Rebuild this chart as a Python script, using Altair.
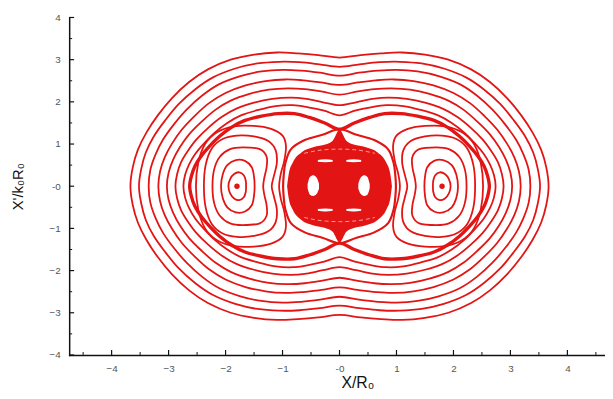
import altair as alt
import pandas as pd

RED = "#e31414"

# Outer closed curves: quadrant points (x >= 0, y >= 0), from the top (x=0) to the x-intercept
outer_x = {
    "O1": [0, 0.37, 0.73, 1.1, 1.5, 1.91, 2.31, 2.64, 2.94, 3.19, 3.39, 3.54, 3.63, 3.67],
    "O2": [0, 0.35, 0.70, 1.06, 1.44, 1.83, 2.22, 2.53, 2.82, 3.06, 3.26, 3.40, 3.48, 3.52],
    "O3": [0, 0.34, 0.67, 1.0, 1.37, 1.74, 2.11, 2.41, 2.68, 2.91, 3.10, 3.23, 3.32, 3.35],
    "O4": [0, 0.32, 0.64, 0.95, 1.30, 1.65, 2.0, 2.29, 2.54, 2.77, 2.94, 3.07, 3.15, 3.18],
    "O5": [0, 0.30, 0.61, 0.91, 1.24, 1.58, 1.91, 2.18, 2.42, 2.64, 2.80, 2.92, 3.0, 3.03],
    "O6": [0, 0.29, 0.58, 0.86, 1.18, 1.50, 1.81, 2.07, 2.30, 2.51, 2.66, 2.78, 2.85, 2.88],
    "O7": [0, 0.27, 0.55, 0.82, 1.12, 1.42, 1.73, 1.97, 2.19, 2.38, 2.53, 2.64, 2.71, 2.74],
}
outer_y = {
    "O1": [3.05, 3.11, 3.15, 3.17, 3.12, 3.0, 2.77, 2.47, 2.09, 1.68, 1.27, 0.86, 0.44, 0],
    "O2": [2.83, 2.89, 2.94, 2.95, 2.91, 2.79, 2.58, 2.30, 1.95, 1.56, 1.18, 0.80, 0.41, 0],
    "O3": [2.62, 2.69, 2.74, 2.76, 2.72, 2.61, 2.42, 2.15, 1.82, 1.46, 1.10, 0.75, 0.39, 0],
    "O4": [2.40, 2.46, 2.51, 2.53, 2.49, 2.39, 2.21, 1.97, 1.67, 1.34, 1.01, 0.68, 0.35, 0],
    "O5": [2.17, 2.24, 2.30, 2.32, 2.29, 2.19, 2.03, 1.81, 1.53, 1.23, 0.93, 0.63, 0.32, 0],
    "O6": [1.92, 1.99, 2.07, 2.10, 2.07, 1.98, 1.84, 1.64, 1.39, 1.11, 0.84, 0.57, 0.29, 0],
    "O7": [1.68, 1.79, 1.87, 1.92, 1.90, 1.81, 1.68, 1.50, 1.27, 1.01, 0.77, 0.52, 0.27, 0],
}
# Separatrix through the X-points (0, +-1.35): outer branch and inner lens
sep_x = [0, 0.26, 0.53, 0.79, 1.08, 1.37, 1.66, 1.89, 2.10, 2.28, 2.43, 2.54, 2.60, 2.63]
sep_y = [1.35, 1.50, 1.63, 1.72, 1.72, 1.66, 1.56, 1.40, 1.19, 0.95, 0.71, 0.47, 0.24, 0]
lens_x = [0, 0.3, 0.6, 0.85, 0.95, 0.98, 0.99]
lens_y = [1.35, 1.22, 1.1, 0.88, 0.55, 0.25, 0]

# Island (kidney) curves around the right O-point, upper half from outer to inner intercept
kid_x = {
    "K1": [1.95, 1.92, 1.85, 1.76, 1.68, 1.645, 1.64],
    "K2": [2.08, 2.05, 1.97, 1.82, 1.66, 1.54, 1.5, 1.49],
    "K3": [2.23, 2.2, 2.1, 1.92, 1.7, 1.4, 1.28, 1.28, 1.32, 1.34],
    "K4": [2.38, 2.35, 2.24, 2.05, 1.8, 1.5, 1.25, 1.12, 1.1, 1.15, 1.19],
    "K5": [2.52, 2.48, 2.36, 2.15, 1.85, 1.5, 1.2, 1.0, 0.94, 0.97, 1.03, 1.06],
}
kid_y = {
    "K1": [0, 0.17, 0.29, 0.33, 0.26, 0.13, 0],
    "K2": [0, 0.28, 0.5, 0.62, 0.6, 0.45, 0.22, 0],
    "K3": [0, 0.4, 0.7, 0.88, 0.92, 0.88, 0.7, 0.45, 0.2, 0],
    "K4": [0, 0.5, 0.9, 1.12, 1.2, 1.18, 1.07, 0.85, 0.55, 0.25, 0],
    "K5": [0, 0.55, 1.0, 1.28, 1.42, 1.43, 1.36, 1.2, 0.95, 0.6, 0.3, 0],
}
island_centers_x = [-1.8, 1.8]
island_centers_y = [0, 0]

# Chaotic central region (filled), top profile and bottom profile
blob_x = [-0.92, -0.89, -0.82, -0.67, -0.45, -0.25, -0.12, 0, 0.12, 0.25, 0.45, 0.67, 0.82, 0.89, 0.92]
blob_top = [0, 0.3, 0.56, 0.8, 0.93, 0.99, 1.08, 1.33, 1.08, 0.99, 0.93, 0.8, 0.56, 0.3, 0]
blob_bot = [0, -0.3, -0.56, -0.8, -0.93, -0.99, -1.08, -1.33, -1.08, -0.99, -0.93, -0.8, -0.56, -0.3, 0]

# White holes inside the central region
hole_id = ["h1"] * 5 + ["h2"] * 5 + ["s1"] * 3 + ["s2"] * 3 + ["s3"] * 3 + ["s4"] * 3
hole_x = [-0.56, -0.52, -0.46, -0.4, -0.36,
          0.33, 0.37, 0.43, 0.49, 0.53,
          -0.38, -0.25, -0.12,
          0.12, 0.25, 0.38,
          -0.38, -0.25, -0.12,
          0.12, 0.25, 0.38]
hole_top = [0.05, 0.22, 0.26, 0.2, 0.06,
            0.06, 0.2, 0.26, 0.22, 0.05,
            0.62, 0.64, 0.62,
            0.62, 0.64, 0.62,
            -0.54, -0.53, -0.54,
            -0.54, -0.53, -0.54]
hole_bot = [-0.05, -0.2, -0.23, -0.18, -0.06,
            -0.06, -0.18, -0.23, -0.2, -0.05,
            0.58, 0.57, 0.58,
            0.58, 0.57, 0.58,
            -0.58, -0.6, -0.58,
            -0.58, -0.6, -0.58]
ring_x = [-0.62, -0.3, 0, 0.3, 0.62]
ring_top = [0.78, 0.86, 0.88, 0.86, 0.78]
ring_bot = [-0.74, -0.82, -0.84, -0.82, -0.74]

major_ticks = [-4, -3, -2, -1, 0, 1, 2, 3, 4]
minor_ticks_x = [-4.5, -3.5, -2.5, -1.5, -0.5, 0.5, 1.5, 2.5, 3.5, 4.5]
minor_ticks_y = [-3.5, -2.5, -1.5, -0.5, 0.5, 1.5, 2.5, 3.5]


def quad_loop(xs, ys):
    p = list(zip(xs, ys))
    q1 = p
    q4 = [(x, -y) for x, y in reversed(p[:-1])]
    q3 = [(-x, -y) for x, y in p[1:]]
    q2 = [(-x, y) for x, y in reversed(p[1:-1])]
    return q1 + q4 + q3 + q2


def half_loop(xs, ys):
    p = list(zip(xs, ys))
    return p + [(x, -y) for x, y in reversed(p[1:-1])]


rows_thin, rows_sep, rows_lens = [], [], []
for k in outer_x:
    for i, (x, y) in enumerate(quad_loop(outer_x[k], outer_y[k])):
        rows_thin.append({"curve": k, "i": i, "x": x, "y": y})
for k in kid_x:
    loop = half_loop(kid_x[k], kid_y[k])
    for i, (x, y) in enumerate(loop):
        rows_thin.append({"curve": k + "R", "i": i, "x": x, "y": y})
        rows_thin.append({"curve": k + "L", "i": i, "x": -x, "y": y})
for i, (x, y) in enumerate(quad_loop(sep_x, sep_y)):
    rows_sep.append({"curve": "sep", "i": i, "x": x, "y": y})
for i, (x, y) in enumerate(quad_loop(lens_x, lens_y)):
    rows_lens.append({"curve": "lens", "i": i, "x": x, "y": y})

df_thin = pd.DataFrame(rows_thin)
df_sep = pd.DataFrame(rows_sep)
df_lens = pd.DataFrame(rows_lens)
df_blob = pd.DataFrame({"x": blob_x, "y": blob_top, "y2": blob_bot})
df_holes = pd.DataFrame({"id": hole_id, "x": hole_x, "y": hole_top, "y2": hole_bot})
df_ring = pd.DataFrame({"x": ring_x * 2, "y": ring_top + ring_bot,
                        "id": ["t"] * 5 + ["b"] * 5})
df_dots = pd.DataFrame({"x": island_centers_x, "y": island_centers_y})
df_xmaj = pd.DataFrame({"x": major_ticks})
df_xmin = pd.DataFrame({"x": minor_ticks_x})
df_ymaj = pd.DataFrame({"y": major_ticks})
df_ymin = pd.DataFrame({"y": minor_ticks_y})

W, H = 543, 342
xs = alt.Scale(domain=[-4.745, 4.66], nice=False, zero=False)
ys = alt.Scale(domain=[-4, 4], nice=False, zero=False)
lab = "datum.value == 0 ? '-0' : datum.label"
xaxis = alt.Axis(values=major_ticks, labelExpr=lab, ticks=False, grid=False,
                 domainColor="#111", domainWidth=1.5, labelColor="#555",
                 labelFont="Liberation Sans", labelFontSize=10, labelPadding=9,
                 title="X/R₀", titleFont="Liberation Sans", titleFontSize=16,
                 titleFontWeight="normal", titleColor="#111", titleX=292, titleY=20)
yaxis = alt.Axis(values=major_ticks, labelExpr=lab, ticks=False, grid=False,
                 domainColor="#111", domainWidth=1.5, labelColor="#555",
                 labelFont="Liberation Sans", labelFontSize=10, labelPadding=9,
                 title="X'/k₀R₀", titleFont="Liberation Sans", titleFontSize=15,
                 titleFontWeight="normal", titleColor="#111", titleX=-44)

X = alt.X("x:Q", scale=xs, axis=xaxis)
Y = alt.Y("y:Q", scale=ys, axis=yaxis)

thin = alt.Chart(df_thin).mark_line(interpolate="cardinal-closed", color=RED,
                                    strokeWidth=1.8).encode(
    x=X, y=Y, detail="curve:N", order="i:Q")
sep = alt.Chart(df_sep).mark_line(interpolate="cardinal-closed", color=RED,
                                  strokeWidth=3.4).encode(
    x=X, y=Y, detail="curve:N", order="i:Q")
lens = alt.Chart(df_lens).mark_line(interpolate="cardinal-closed", color=RED,
                                    strokeWidth=2.2).encode(
    x=X, y=Y, detail="curve:N", order="i:Q")
blob = alt.Chart(df_blob).mark_area(interpolate="monotone", color=RED).encode(
    x=X, y=Y, y2="y2:Q")
holes = alt.Chart(df_holes).mark_area(interpolate="monotone", color="white").encode(
    x=X, y=Y, y2="y2:Q", detail="id:N")
ring = alt.Chart(df_ring).mark_line(interpolate="monotone", color="white",
                                    strokeWidth=1, strokeDash=[4, 3], opacity=0.6).encode(
    x=X, y=Y, detail="id:N")
dots = alt.Chart(df_dots).mark_point(filled=True, color=RED, size=30, opacity=1).encode(
    x=X, y=Y)

xmaj = alt.Chart(df_xmaj).mark_rule(color="#111", strokeWidth=1.2).encode(
    x=X, y=alt.value(H), y2=alt.value(H - 5))
xmin = alt.Chart(df_xmin).mark_rule(color="#111", strokeWidth=1).encode(
    x=X, y=alt.value(H), y2=alt.value(H - 3))
ymaj = alt.Chart(df_ymaj).mark_rule(color="#111", strokeWidth=1.2).encode(
    y=Y, x=alt.value(0), x2=alt.value(5))
ymin = alt.Chart(df_ymin).mark_rule(color="#111", strokeWidth=1).encode(
    y=Y, x=alt.value(0), x2=alt.value(3))

chart = alt.layer(thin, sep, lens, blob, holes, ring, dots, xmaj, xmin, ymaj, ymin).properties(
    width=W, height=H,
    autosize=alt.AutoSizeParams(type="none"),
    padding={"left": 62, "top": 7, "right": 0, "bottom": 40},
    background="white",
).configure_view(stroke=None).configure_axis(domainCap="square")

chart.save("out.html", embed_options={"renderer": "svg", "actions": False})
